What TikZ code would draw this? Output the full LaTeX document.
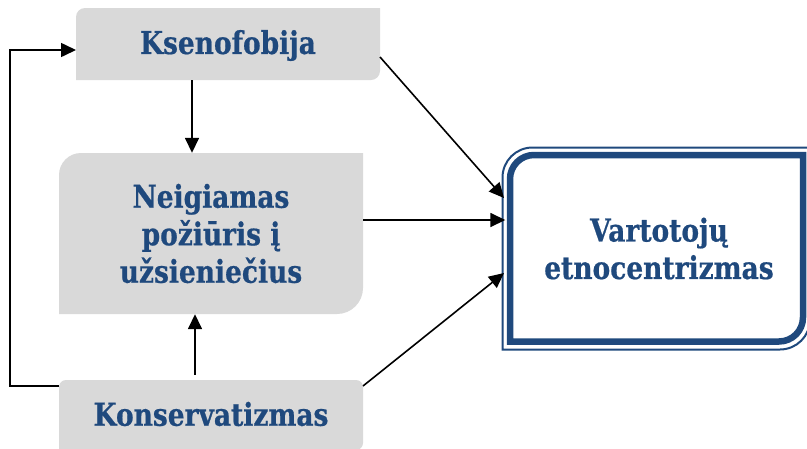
\documentclass[tikz,border=0pt]{standalone}
\usepackage{fontspec}
\setmainfont{DejaVu Serif}[FakeStretch=0.84, BoldFeatures={FakeStretch=0.84, FakeBold=0.6}]
\usetikzlibrary{arrows.meta}
\definecolor{txtblue}{RGB}{31,73,125}
\definecolor{boxgray}{RGB}{217,217,217}
\begin{document}
\begin{tikzpicture}[x=1pt,y=-1pt,
  lbl/.style={font=\fontsize{31.5}{37.5}\selectfont\bfseries, text=txtblue, align=center, inner sep=0pt},
  conn/.style={line width=1.6pt, draw=black},
  arr/.style={conn, -{Triangle[length=15pt,width=14pt]}}]
\useasboundingbox (0,0) rectangle (807,448);
% shapes
\fill[boxgray] (76,80) [rounded corners=9pt] -- (76,8) [sharp corners] -- (380,8) [rounded corners=9pt] -- (380,80) [sharp corners] -- cycle;
\fill[boxgray] (59,314) [rounded corners=22pt] -- (59,153) [sharp corners] -- (363,153) [rounded corners=26pt] -- (363,314) [sharp corners] -- cycle;
\fill[boxgray] (59,450) [rounded corners=7pt] -- (59,380) -- (363,380) -- (363,450) [sharp corners] -- cycle;
\draw[txtblue, line width=6.5pt] (510,341.5) [rounded corners=24pt] -- (510,155) [sharp corners] -- (803,155) [rounded corners=24pt] -- (803,341.5) [sharp corners] -- cycle;
\draw[txtblue, line width=2pt] (502.5,349.5) [rounded corners=30pt] -- (502.5,147.5) [sharp corners] -- (810,147.5) [rounded corners=30pt] -- (810,349.5) [sharp corners] -- cycle;
% nodes
\node[lbl, minimum width=304pt, minimum height=72pt] (k) at (228,45.5) {Ksenofobija};
\node[lbl, minimum width=304pt, minimum height=161pt] (n) at (211,233.5) {Neigiamas\\požiūris į\\užsieniečius};
\node[lbl, minimum width=304pt, minimum height=68pt] (c) at (211,414) {Konservatizmas};
\node[lbl, minimum width=307pt, minimum height=202pt] (v) at (659,248.5) {Vartotojų\\etnocentrizmas};
% connector end points
\coordinate (kout) at (380,57);
\coordinate (cout) at (363,386);
\coordinate (cleft) at (59,386);
\coordinate (v1) at (504,198);
\coordinate (v3) at (504,273);
\coordinate (lc1) at (10,386);
\coordinate (lc2) at (10,50);
\coordinate (kin) at (76,50);
% connectors
\draw[arr] (k.south -| 192,0) ++(0,-1.5) -- (n.north -| 192,0);
\draw[arr] (c.north -| 195,0) ++(0,-5) -- (n.south -| 195,0);
\draw[arr] (kout) -- (v1);
\draw[arr] (n.east |- 0,220) -- (v.west |- 0,220);
\draw[arr] (cout) -- (v3);
\draw[arr] (cleft) -- (lc1) -- (lc2) -- (kin);
\end{tikzpicture}
\end{document}
